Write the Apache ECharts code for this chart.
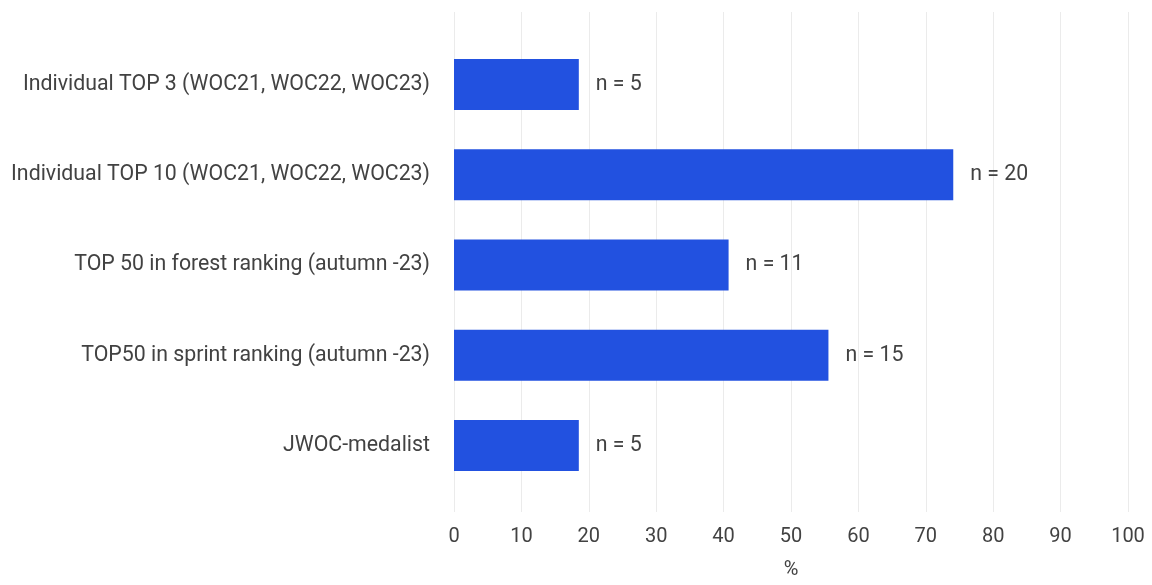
<!DOCTYPE html>
<html>
<head>
<meta charset="utf-8">
<script src="https://cdn.jsdelivr.net/npm/echarts@6/dist/echarts.min.js"></script>
<style>
  html, body { margin: 0; padding: 0; background: #ffffff; }
  #chart { width: 1152px; height: 585px; }
</style>
</head>
<body>
<div id="chart"></div>
<script>
// Respondent groups, top to bottom
const categories = [
  'Individual TOP 3 (WOC21, WOC22, WOC23)',
  'Individual TOP 10 (WOC21, WOC22, WOC23)',
  'TOP 50 in forest ranking (autumn -23)',
  'TOP50 in sprint ranking (autumn -23)',
  'JWOC-medalist'
];
// Number of athletes in each group
const counts = [5, 20, 11, 15, 5];
// Total number of athletes answering
const totalAthletes = 27;
// Share of all athletes, in percent
const shares = counts.map(n => n / totalAthletes * 100);
const xTicks = [0, 10, 20, 30, 40, 50, 60, 70, 80, 90, 100];

const textColor = '#424242';
const font = 'Roboto';

const chart = echarts.init(document.getElementById('chart'), null, { renderer: 'canvas' });

chart.setOption({
  animation: false,
  textStyle: { fontFamily: font },
  grid: [
    // background grid carrying the percent axis and its vertical lines
    { left: 454, right: 24, top: 12, bottom: 68, containLabel: false },
    // grid holding the bars and the group labels
    { left: 454, right: 24, top: 39.5, height: 451, containLabel: false }
  ],
  xAxis: [
    {
      gridIndex: 0,
      type: 'value',
      min: xTicks[0],
      max: xTicks[xTicks.length - 1],
      interval: 10,
      name: '%',
      nameLocation: 'middle',
      nameGap: 48,
      nameTextStyle: { color: textColor, fontSize: 20, fontFamily: font },
      axisLine: { show: false },
      axisTick: { show: false },
      axisLabel: { color: textColor, fontSize: 20, fontFamily: font, margin: 15 },
      splitLine: { show: true, lineStyle: { color: '#ebebeb', width: 1 } }
    },
    {
      gridIndex: 1,
      type: 'value',
      min: xTicks[0],
      max: xTicks[xTicks.length - 1],
      show: false
    }
  ],
  yAxis: [
    {
      gridIndex: 0,
      type: 'value',
      show: false
    },
    {
      gridIndex: 1,
      type: 'category',
      data: categories,
      inverse: true,
      axisLine: { show: false },
      axisTick: { show: false },
      splitLine: { show: false },
      axisLabel: { color: textColor, fontSize: 21.3, fontFamily: font, margin: 24 }
    }
  ],
  series: [
    {
      type: 'bar',
      xAxisIndex: 1,
      yAxisIndex: 1,
      data: shares,
      barWidth: 51,
      itemStyle: { color: '#2251e0' },
      label: {
        show: true,
        position: 'right',
        distance: 17,
        color: textColor,
        fontSize: 21.3,
        fontFamily: font,
        formatter: p => 'n = ' + counts[p.dataIndex]
      }
    }
  ]
});
</script>
</body>
</html>
